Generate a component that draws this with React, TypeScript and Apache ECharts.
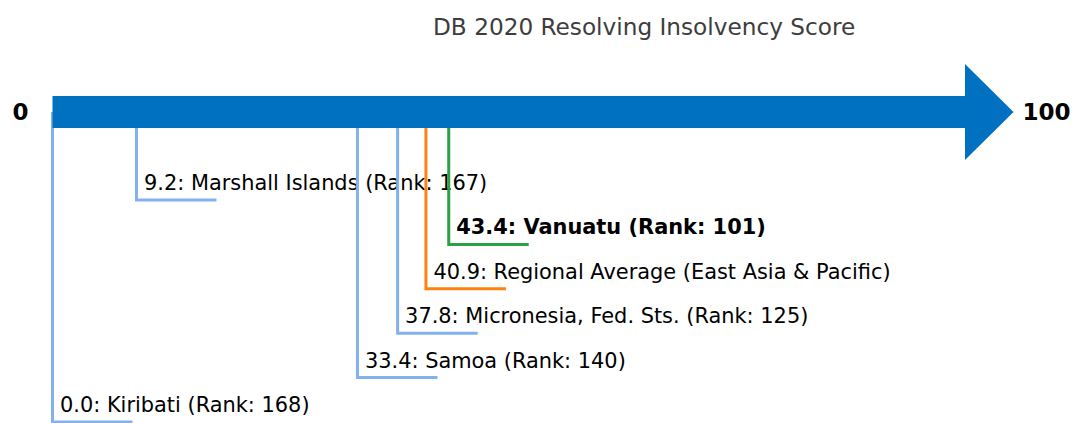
import React, { useEffect, useRef } from "react";
import * as echarts from "echarts";

const titleText = "DB 2020 Resolving Insolvency Score";
const scaleMin = 0;
const scaleMax = 100;
const endLabels = ["0", "100"];
const names = [
  "Marshall Islands",
  "Vanuatu",
  "Regional Average (East Asia & Pacific)",
  "Micronesia, Fed. Sts.",
  "Samoa",
  "Kiribati",
];
const scores = [9.2, 43.4, 40.9, 37.8, 33.4, 0.0];
const ranks: (number | null)[] = [167, 101, null, 125, 140, 168];
const kinds = ["peer", "focus", "average", "peer", "peer", "peer"];

const FONT = "DejaVu Sans";
const BAR_TOP = 96;
const BAR_BOTTOM = 128;
const BAR_CENTER = 112;
const HEAD_HALF = 48;
const HEAD_LEN = 48;
const FIRST_LEVEL = 200;
const STEP = 44.4;
const HLEN = 80;

const kindColor: Record<string, string> = {
  peer: "#82b1ec",
  focus: "#2ca044",
  average: "#ff8112",
};

export default function App() {
  const ref = useRef<HTMLDivElement>(null);
  useEffect(() => {
    document.body.style.margin = "0";
    const chart = echarts.init(ref.current!, null, { renderer: "svg" });
    const labelData = scores.map((s, i) => [s, i]);
    chart.setOption({
      animation: false,
      title: {
        text: titleText,
        left: 433,
        top: 15,
        padding: 0,
        textStyle: { fontSize: 23.2, fontWeight: "normal", color: "#3d3d3d", fontFamily: FONT },
      },
      grid: { left: 52.5, right: 106.5, top: 0, bottom: 0 },
      xAxis: { type: "value", min: scaleMin, max: scaleMax, show: false },
      yAxis: { type: "value", min: 0, max: 1, show: false },
      series: [
        {
          type: "custom",
          z: 2,
          data: labelData,
          renderItem: (params: any, api: any) => {
            const i = params.dataIndex;
            const x = api.coord([api.value(0), 0])[0];
            const y = FIRST_LEVEL + i * STEP;
            const kind = kinds[i];
            const text =
              `${scores[i].toFixed(1)}: ${names[i]}` + (ranks[i] != null ? ` (Rank: ${ranks[i]})` : "");
            return {
              type: "group",
              children: [
                {
                  type: "text",
                  style: {
                    text,
                    x: x + 7.5,
                    y: y - 17,
                    fill: "#000",
                    fontSize: 20.9,
                    fontFamily: FONT,
                    fontWeight: kind === "focus" ? "bold" : "normal",
                    verticalAlign: "middle",
                    align: "left",
                  },
                },
                {
                  type: "polyline",
                  shape: { points: [[x, BAR_CENTER], [x, y], [x + HLEN, y]] },
                  style: { stroke: kindColor[kind], lineWidth: 3, fill: null, lineJoin: "miter" },
                },
              ],
            };
          },
        },
        {
          type: "custom",
          z: 5,
          data: [[scaleMin, scaleMax]],
          renderItem: (params: any, api: any) => {
            const x0 = api.coord([api.value(0), 0])[0];
            const x1 = api.coord([api.value(1), 0])[0];
            return {
              type: "group",
              children: [
                {
                  type: "rect",
                  shape: { x: x0, y: BAR_TOP, width: x1 - x0, height: BAR_BOTTOM - BAR_TOP },
                  style: { fill: "#0070c0" },
                },
                {
                  type: "polygon",
                  shape: {
                    points: [
                      [x1 - 0.5, BAR_CENTER - HEAD_HALF],
                      [x1 + HEAD_LEN, BAR_CENTER],
                      [x1 - 0.5, BAR_CENTER + HEAD_HALF],
                    ],
                  },
                  style: { fill: "#0070c0" },
                },
                {
                  type: "text",
                  style: {
                    text: endLabels[0],
                    x: x0 - 24,
                    y: BAR_CENTER,
                    align: "right",
                    verticalAlign: "middle",
                    fontSize: 23,
                    fontWeight: "bold",
                    fontFamily: FONT,
                    fill: "#000",
                  },
                },
                {
                  type: "text",
                  style: {
                    text: endLabels[1],
                    x: x1 + HEAD_LEN + 9,
                    y: BAR_CENTER,
                    align: "left",
                    verticalAlign: "middle",
                    fontSize: 23,
                    fontWeight: "bold",
                    fontFamily: FONT,
                    fill: "#000",
                  },
                },
              ],
            };
          },
        },
      ],
    });
    return () => chart.dispose();
  }, []);
  return <div ref={ref} style={{ width: 1072, height: 423 }} />;
}
